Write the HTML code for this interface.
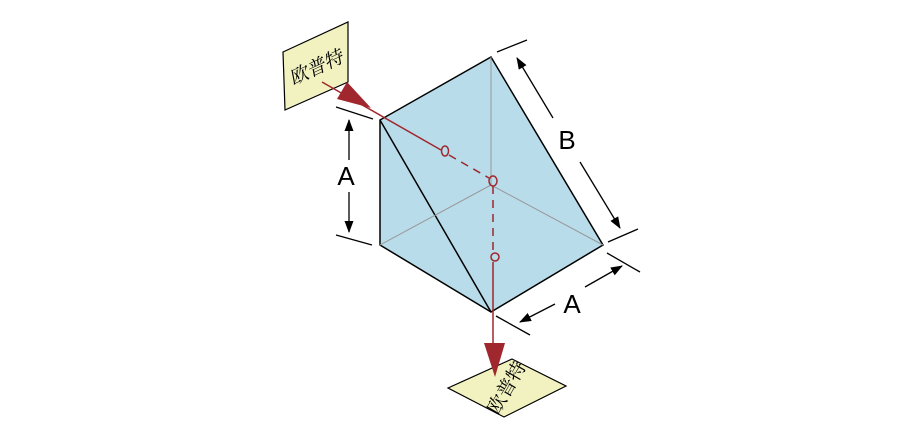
<!DOCTYPE html>
<html><head><meta charset="utf-8"><style>body{margin:0;background:#fff}svg{display:block}</style></head><body>
<svg width="924" height="440" viewBox="0 0 924 440" xmlns="http://www.w3.org/2000/svg">
<defs><marker id="a" markerWidth="12" markerHeight="9" refX="11" refY="4.5" orient="auto" markerUnits="userSpaceOnUse"><path d="M0,0L12,4.5L0,9z" fill="#000"/></marker></defs>
<polygon points="380,120 491,57 603,245 491,312 380,245" fill="#b8dcea" stroke="#000" stroke-width="1.5"/>
<line x1="380" y1="120" x2="491" y2="312" stroke="#000" stroke-width="1.5"/>
<g stroke="#999" stroke-width="1"><line x1="491" y1="57" x2="491" y2="185"/><line x1="491" y1="185" x2="380" y2="245"/><line x1="491" y1="185" x2="603" y2="245"/></g>
<polygon points="283,52 348,22 348,82 285,110" fill="#f2f2c0" stroke="#000" stroke-width="1.2"/>
<text x="316" y="74" font-family="'Noto Serif CJK SC',serif" font-size="19" font-style="italic" text-anchor="middle" transform="rotate(-25 316 68)">欧普特</text>
<polygon points="448,388 512,359 566,386 504,417" fill="#f2f2c0" stroke="#000" stroke-width="1.2"/>
<text x="507" y="394" font-family="'Noto Serif CJK SC',serif" font-size="19" text-anchor="middle" transform="rotate(-60 507 388)">欧普特</text>
<g stroke="#a0272d" stroke-width="1.5" fill="none">
<line x1="322" y1="82" x2="441" y2="150"/>
<line x1="449" y1="155" x2="489" y2="178" stroke-dasharray="8,6"/>
<line x1="493" y1="186" x2="493" y2="252" stroke-dasharray="8,6"/>
<line x1="493" y1="262" x2="493" y2="345"/>
<ellipse cx="445" cy="151" rx="3.5" ry="5"/><ellipse cx="493" cy="181" rx="4" ry="5"/><ellipse cx="495" cy="257" rx="4" ry="4"/>
</g>
<polygon points="337,99 347,82 371,108" fill="#a0272d"/>
<polygon points="484,343 505,343 495,377" fill="#a0272d"/>
<g stroke="#000" stroke-width="1.3">
<line x1="336" y1="107" x2="373" y2="119"/><line x1="336" y1="235" x2="372" y2="245"/>
<line x1="349" y1="160" x2="349" y2="120" marker-end="url(#a)"/><line x1="349" y1="192" x2="349" y2="232" marker-end="url(#a)"/>
<line x1="497" y1="52" x2="527" y2="40"/><line x1="608" y1="242" x2="638" y2="229"/>
<line x1="553" y1="118" x2="517" y2="58" marker-end="url(#a)"/><line x1="580" y1="162" x2="620" y2="228" marker-end="url(#a)"/>
<line x1="496" y1="316" x2="530" y2="335"/><line x1="607" y1="253" x2="640" y2="272"/>
<line x1="555" y1="304" x2="520" y2="322" marker-end="url(#a)"/><line x1="585" y1="287" x2="622" y2="266" marker-end="url(#a)"/>
</g>
<g font-family="Liberation Sans,sans-serif" font-size="26" text-anchor="middle">
<text x="346" y="185">A</text><text x="567" y="149">B</text><text x="572" y="313">A</text></g>
</svg>
</body></html>
